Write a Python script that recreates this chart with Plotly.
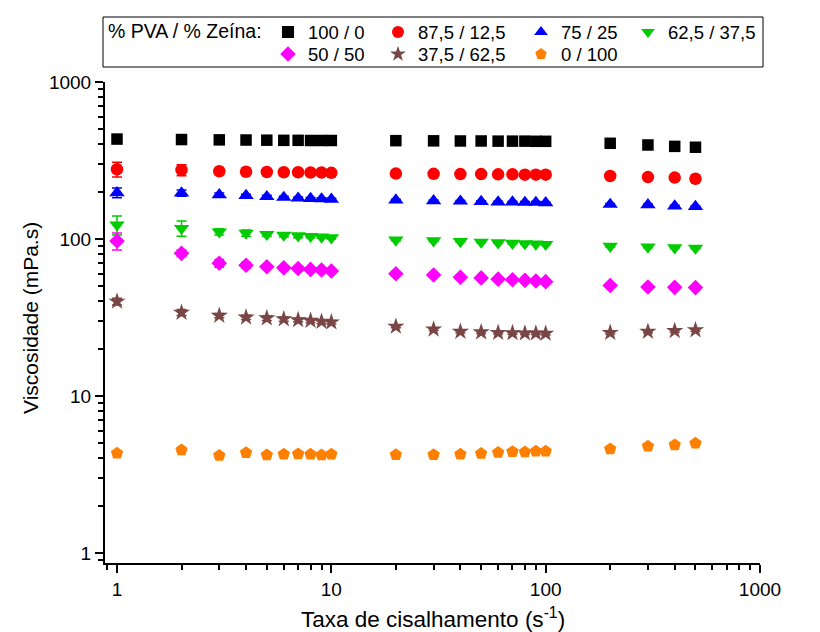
import plotly.graph_objects as go

shear_rate = [1, 2, 3, 4, 5, 6, 7, 8, 9, 10,
              20, 30, 40, 50, 60, 70, 80, 90, 100,
              200, 300, 400, 500]

series_names = ["100 / 0", "87,5 / 12,5", "75 / 25", "62,5 / 37,5",
                "50 / 50", "37,5 / 62,5", "0 / 100"]

visc_100_0 = [433, 430, 428, 427, 426, 425, 425, 424, 424, 424,
              423, 422, 421, 421, 420, 420, 420, 419, 419,
              407, 397, 389, 384]
visc_87_12 = [278, 275, 270, 268, 267, 266, 266, 265, 265, 264,
              261, 260, 259, 259, 258, 258, 257, 257, 257,
              252, 248, 246, 242]
visc_75_25 = [197, 196, 191, 189, 186, 184, 182, 181, 180, 179,
              177, 175, 174, 173, 172, 172, 171, 171, 170,
              166, 165, 162, 161]
visc_62_37 = [123, 117, 111, 109, 107, 106, 105, 104, 103, 102,
              98.6, 97.5, 96.5, 95.5, 94.8, 94, 93.5, 93, 92.5,
              90, 89, 88, 87.5]
visc_50_50 = [97, 81, 70, 68, 66.6, 65.5, 64.8, 64, 63.5, 62.5,
              60, 59, 57, 56.5, 55.5, 55, 54.5, 54, 53.5,
              50.5, 49.5, 49.2, 49]
visc_37_62 = [40, 34, 32.5, 31.7, 31.3, 30.9, 30.5, 30.2, 29.8, 29.5,
              27.7, 26.6, 25.7, 25.5, 25.3, 25.2, 25.1, 25.1, 25.0,
              25.3, 25.7, 26.0, 26.3]
visc_0_100 = [4.32, 4.53, 4.17, 4.35, 4.21, 4.25, 4.27, 4.25, 4.21, 4.25,
              4.22, 4.22, 4.25, 4.3, 4.36, 4.42, 4.4, 4.45, 4.45,
              4.6, 4.78, 4.88, 5.0]

err_100_0 = [8, 6, 4, 4, 3, 3, 3, 3, 3, 3, 3, 3, 3, 3, 3, 3, 3, 3, 3, 3, 3, 3, 3]
err_87_12 = [30, 22, 8, 6, 5, 5, 4, 4, 4, 4, 3, 3, 3, 3, 3, 3, 3, 3, 3, 3, 3, 3, 3]
err_75_25 = [14, 9, 5, 4, 4, 3, 3, 3, 3, 3, 2, 2, 2, 2, 2, 2, 2, 2, 2, 2, 2, 2, 2]
err_62_37 = [17, 13, 5, 5, 3, 3, 3, 2, 2, 2, 1, 1, 1, 1, 1, 1, 1, 1, 1, 1, 1, 1, 1]
err_50_50 = [12, 4, 4, 3, 2, 2, 2, 1.5, 1.5, 1.5, 1, 1, 1, 1, 1, 1, 1, 1, 1, 1, 1, 1, 1]
err_37_62 = [2, 1.5, 1, 1, 1, 1, 0.8, 0.8, 0.8, 0.8, 0.5, 0.5, 0.5, 0.5, 0.5, 0.5, 0.5, 0.5, 0.5, 0.5, 0.5, 0.5, 0.5]
err_0_100 = [0.1] * 23

series_values = [visc_100_0, visc_87_12, visc_75_25, visc_62_37,
                 visc_50_50, visc_37_62, visc_0_100]
series_errors = [err_100_0, err_87_12, err_75_25, err_62_37,
                 err_50_50, err_37_62, err_0_100]
series_colors = ["#000000", "#FF0000", "#0000FF", "#00CC00",
                 "#FF00FF", "#7A4545", "#FF8000"]
series_symbols = ["square", "circle", "triangle-up", "triangle-down",
                  "diamond", "star", "pentagon"]
series_sizes = [11.5, 12.5, 13.5, 13.5, 12, 13, 13]

x_title = "Taxa de cisalhamento (s<sup>-1</sup>)"
y_title = "Viscosidade (mPa.s)"
legend_title = "% PVA / % Zeína:"

FONT = "Liberation Sans, Arial, sans-serif"
W, H = 820, 632
L, R, T, B = 105, 60, 82, 69

# one legend box per entry: (left px, top px) of each entry, 4 columns x 2 rows
legend_ids = ["legend", "legend2", "legend3", "legend4", "legend5", "legend6", "legend7"]
col_left = [268, 378, 521, 628]
row_top = [13.5, 35.5]
legend_pos = [(col_left[0], row_top[0]), (col_left[1], row_top[0]),
              (col_left[2], row_top[0]), (col_left[3], row_top[0]),
              (col_left[0], row_top[1]), (col_left[1], row_top[1]),
              (col_left[2], row_top[1])]

fig = go.Figure()
for name, vals, errs, col, sym, sz, lg in zip(series_names, series_values, series_errors,
                                              series_colors, series_symbols, series_sizes,
                                              legend_ids):
    fig.add_trace(go.Scatter(
        x=shear_rate, y=vals, mode="markers", name=name, legend=lg,
        marker=dict(symbol=sym, color=col, size=sz, line=dict(width=0)),
        error_y=dict(type="data", array=errs, color=col, thickness=1.5, width=5),
    ))

axis_common = dict(
    type="log", showgrid=False, zeroline=False, automargin=False,
    showline=True, linecolor="black", linewidth=2,
    ticks="outside", ticklen=8, tickwidth=2, tickcolor="black",
    dtick=1, tickfont=dict(size=19, color="black", family=FONT),
    minor=dict(ticks="outside", ticklen=5, tickwidth=1.5, tickcolor="black", showgrid=False),
)

fig.update_xaxes(**axis_common, range=[-0.056, 3])
fig.update_yaxes(**axis_common, range=[-0.064, 3])

pw, ph = W - L - R, H - T - B
def px_x(p):
    return (p - L) / pw
def px_y(p):
    return (H - B - p) / ph

# legend frame
fig.add_shape(type="rect", xref="paper", yref="paper",
              x0=px_x(103), x1=px_x(763), y0=px_y(67), y1=px_y(17),
              line=dict(color="black", width=1), fillcolor="rgba(0,0,0,0)", layer="above")

legend_common = dict(
    orientation="v", xanchor="left", yanchor="top",
    xref="container", yref="container",
    font=dict(size=18.5, color="black", family=FONT),
    borderwidth=0, bgcolor="rgba(0,0,0,0)",
    itemsizing="constant", tracegroupgap=0,
)

legends = {}
for lg, (lx, ly) in zip(legend_ids, legend_pos):
    legends[lg] = dict(**legend_common, x=lx / W, y=1 - ly / H)

fig.update_layout(
    width=W, height=H,
    margin=dict(l=L, r=R, t=T, b=B, autoexpand=False),
    paper_bgcolor="white", plot_bgcolor="white",
    font=dict(family=FONT, color="black"),
    showlegend=True,
    annotations=[
        dict(text=legend_title, xref="paper", yref="paper",
             x=px_x(106), y=px_y(31.5), xanchor="left", yanchor="middle",
             showarrow=False, font=dict(size=19.5, color="black", family=FONT)),
        dict(text=x_title, xref="paper", yref="paper",
             x=0.5, y=px_y(618), xanchor="center", yanchor="middle",
             showarrow=False, font=dict(size=22.5, color="black", family=FONT)),
        dict(text=y_title, xref="paper", yref="paper", textangle=-90,
             x=px_x(30), y=px_y(318), xanchor="center", yanchor="middle",
             showarrow=False, font=dict(size=21, color="black", family=FONT)),
    ],
    **legends,
)

fig.write_html("out.html", post_script="document.body.style.margin='0';",
               config={"displayModeBar": False})
